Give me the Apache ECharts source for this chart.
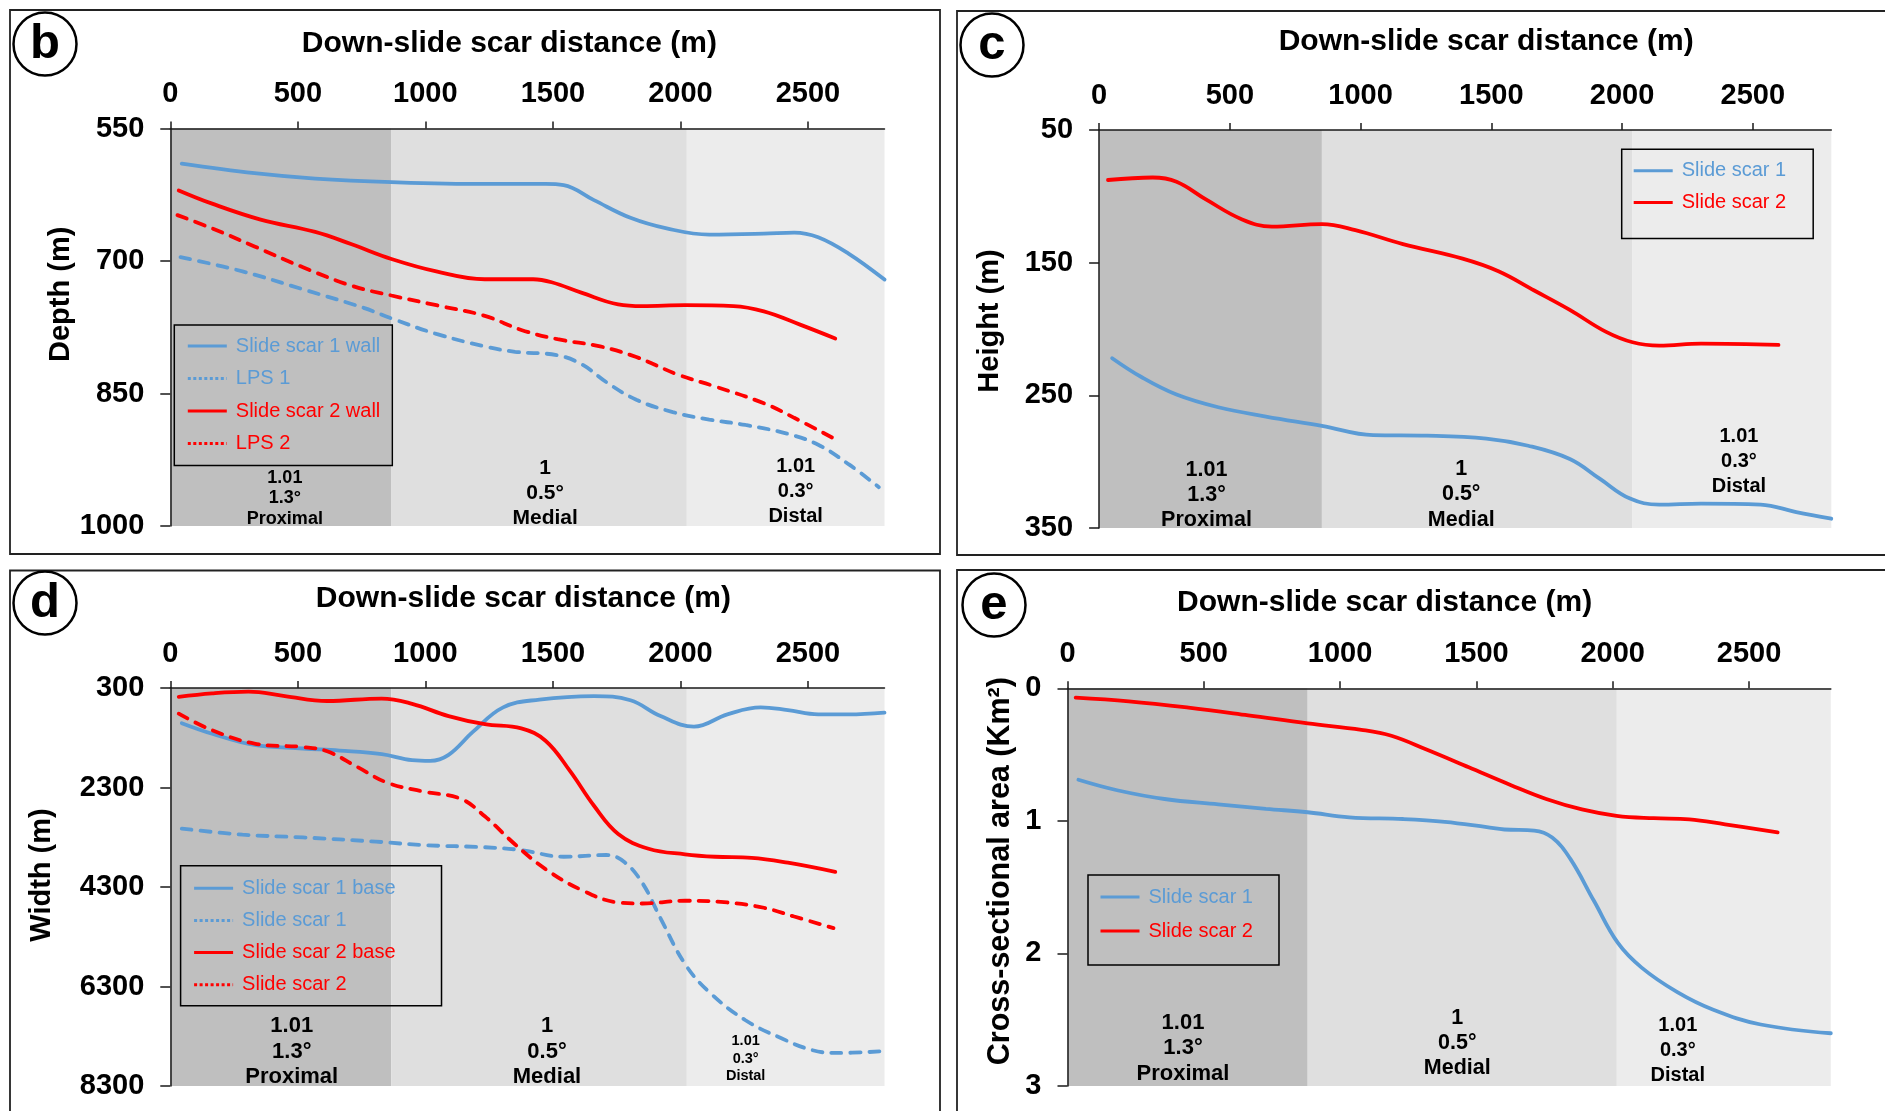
<!DOCTYPE html>
<html><head><meta charset="utf-8">
<script src="https://cdn.jsdelivr.net/npm/echarts@6/dist/echarts.min.js"></script>
<style>html,body{margin:0;padding:0;background:#fff}#c{width:1885px;height:1111px}</style>
</head><body><div id="c"></div>
<script>
const FONT = '"Liberation Sans", Arial, sans-serif';
const BLUE = '#5B9BD5', RED = '#FF0000', AX = '#1a1a1a';
const ZONE_COLORS = ['#bfbfbf', '#dfdfdf', '#ececec'];

// ---- tick labels ----
const distTicks = [0, 500, 1000, 1500, 2000, 2500];
const depthTicks = [550, 700, 850, 1000];
const heightTicks = [50, 150, 250, 350];
const widthTicks = [300, 2300, 4300, 6300, 8300];
const areaTicks = [0, 1, 2, 3];

// ---- zones (down-slide distance, m) ----
const zonesB = [0, 867, 2025, 2800];
const zonesC = [0, 852, 2040, 2800];
const zonesD = [0, 866, 2025, 2800];
const zonesE = [0, 881, 2015, 2800];
const zoneText = [['1.01', '1.3°', 'Proximal'], ['1', '0.5°', 'Medial'], ['1.01', '0.3°', 'Distal']];

// ---- panel b: depth (m) ----
const bWall1X = [45, 330, 568, 867, 1233, 1471, 1542, 1661, 1804, 1946, 2113, 2327, 2446, 2540, 2659, 2800];
const bWall1Y = [589.6, 600.5, 606.6, 610.6, 612.7, 612.7, 614, 631, 651, 663, 670, 669, 667.7, 673, 691.5, 721];
const bLps1X = [40, 283, 520, 758, 877, 1043, 1233, 1352, 1518, 1614, 1709, 1827, 1970, 2113, 2255, 2421, 2540, 2659, 2778];
const bLps1Y = [695.5, 711.7, 732, 753, 766, 782.5, 796.6, 802.7, 806.7, 817, 837, 857, 871, 879.5, 885.6, 895.7, 908, 930, 956];
const bWall2X = [33, 164, 354, 568, 711, 867, 1043, 1233, 1423, 1495, 1614, 1756, 1851, 2018, 2208, 2327, 2469, 2607];
const bWall2Y = [620, 635, 653, 667, 681, 697.6, 711.7, 720.6, 720.6, 724, 736, 749, 751, 750, 751, 757, 772, 787.7];
const bLps2X = [28, 164, 330, 520, 711, 867, 1043, 1233, 1376, 1518, 1685, 1827, 1994, 2136, 2327, 2446, 2607];
const bLps2Y = [648, 663, 683.4, 707, 728, 739, 750, 762, 778, 788.5, 796.6, 808.7, 829, 842, 861, 877.5, 901.7];

// ---- panel c: height (m) ----
const cScar1X = [50, 160, 296, 456, 638, 852, 1048, 1253, 1481, 1641, 1800, 1914, 2028, 2142, 2302, 2530, 2666, 2800];
const cScar1Y = [222, 236, 249.4, 259, 266, 273, 280, 280.4, 282.6, 288, 298, 312.8, 327.6, 332.4, 331.6, 332.4, 338, 343];
const cScar2X = [34, 205, 296, 410, 547, 661, 852, 980, 1162, 1390, 1527, 1664, 1800, 1937, 2040, 2142, 2302, 2598];
const cScar2Y = [87.7, 85.8, 89, 102.5, 117.4, 122.8, 120.9, 125.5, 136, 147, 156.5, 171, 185.6, 202, 210, 212.5, 211, 212];

// ---- panel d: width (m) ----
const dBase1X = [45, 164, 330, 520, 663, 829, 948, 1019, 1091, 1186, 1305, 1447, 1661, 1804, 1922, 2053, 2184, 2315, 2421, 2540, 2659, 2800];
const dBase1Y = [1007, 1219, 1445, 1516, 1558, 1629, 1749, 1763, 1643, 1183, 689, 533, 462, 547, 865, 1077, 830, 689, 745, 830, 830, 795];
const dScar1X = [45, 283, 520, 806, 996, 1233, 1376, 1542, 1709, 1780, 1851, 1922, 2018, 2113, 2255, 2398, 2517, 2612, 2800];
const dScar1Y = [3127, 3247, 3303, 3388, 3459, 3501, 3558, 3692, 3657, 3798, 4222, 4929, 5848, 6413, 6978, 7346, 7579, 7636, 7600];
const dBase2X = [33, 164, 307, 449, 615, 829, 948, 1091, 1233, 1376, 1471, 1566, 1661, 1756, 1875, 2018, 2136, 2279, 2421, 2607];
const dBase2Y = [477, 406, 371, 463, 561, 512, 618, 865, 1028, 1113, 1360, 1961, 2667, 3233, 3530, 3643, 3692, 3713, 3812, 3996];
const dScar2X = [33, 164, 330, 520, 615, 734, 853, 996, 1138, 1233, 1352, 1471, 1614, 1756, 1851, 2018, 2184, 2327, 2446, 2600];
const dScar2Y = [816, 1148, 1417, 1487, 1572, 1890, 2208, 2385, 2526, 2879, 3445, 3940, 4364, 4611, 4632, 4576, 4611, 4717, 4894, 5127];

// ---- panel e: cross-sectional area (km²) ----
const eScar1X = [40, 182, 356, 553, 728, 881, 1034, 1231, 1384, 1538, 1603, 1712, 1778, 1844, 1931, 2019, 2106, 2237, 2369, 2543, 2800];
const eScar1Y = [0.69, 0.769, 0.835, 0.875, 0.909, 0.935, 0.973, 0.986, 1.007, 1.047, 1.065, 1.073, 1.126, 1.285, 1.603, 1.921, 2.107, 2.292, 2.425, 2.536, 2.602];
const eScar2X = [30, 225, 444, 663, 881, 1078, 1188, 1319, 1472, 1625, 1756, 1887, 2014, 2150, 2281, 2412, 2605];
const eScar2Y = [0.07, 0.098, 0.146, 0.204, 0.265, 0.313, 0.358, 0.464, 0.596, 0.729, 0.835, 0.914, 0.962, 0.98, 0.988, 1.026, 1.087];

// ================= layout / style =================
const pairs = (xs, ys) => xs.map((x, i) => [x, ys[i]]);
const grids = [
  {left: 170.3, top: 128.6, width: 714.2, height: 397.4},
  {left: 1099.1, top: 130, width: 732.2, height: 398},
  {left: 170.3, top: 688, width: 714.2, height: 398},
  {left: 1067.5, top: 688.3, width: 763.3, height: 397.7}
];
const xNameCfg = [
  {gap: 70, pad: [0, 36, 0, 0]},
  {gap: 73.5, pad: [0, 0, 0, 42]},
  {gap: 74, pad: [0, 8, 0, 0]},
  {gap: 70.5, pad: [0, 129, 0, 0]}
];
const yCfg = [
  {min: 550, max: 1000, interval: 150, ticks: depthTicks, name: 'Depth (m)', gap: 85.5, shift: 33, fs: 29},
  {min: 50, max: 350, interval: 100, ticks: heightTicks, name: 'Height (m)', gap: 95, shift: 8, fs: 29},
  {min: 300, max: 8300, interval: 2000, ticks: widthTicks, name: 'Width (m)', gap: 114, shift: 12, fs: 29},
  {min: 0, max: 3, interval: 1, ticks: areaTicks, name: 'Cross-sectional area (Km²)', gap: 51, shift: 16, fs: 30.5}
];
const zoneLabelCfg = [
  [{dx: 4, dy: 3, fs: 18, lh: 20.5}, {dx: 6, dy: 5, fs: 21, lh: 25}, {dx: 10, dy: 3, fs: 20, lh: 25}],
  [{dx: -4, dy: 5, fs: 21.5, lh: 25}, {dx: -16, dy: 4.8, fs: 21.5, lh: 25.6}, {dx: 7, dy: -28.7, fs: 20, lh: 25.3}],
  [{dx: 11, dy: 3.7, fs: 22, lh: 25.5}, {dx: 8, dy: 3.7, fs: 22, lh: 25.5}, {dx: -40, dy: -1.2, fs: 14.5, lh: 17.5}],
  [{dx: -4.6, dy: 0.2, fs: 22, lh: 25.4}, {dx: -5, dy: -5.8, fs: 21.5, lh: 25}, {dx: -46, dy: 1.5, fs: 20, lh: 25}]
];
const allZones = [zonesB, zonesC, zonesD, zonesE];
const plain = v => String(v);

const xAxes = grids.map((g, i) => ({
  gridIndex: i, type: 'value', position: 'top', min: 0, max: 2800, interval: 500, z: 10,
  name: 'Down-slide scar distance (m)', nameLocation: 'middle', nameGap: xNameCfg[i].gap,
  nameTextStyle: {fontFamily: FONT, fontSize: 30, fontWeight: 'bold', color: '#000', padding: xNameCfg[i].pad},
  axisLine: {show: true, lineStyle: {color: AX, width: 1.5}},
  axisTick: {show: true, length: 7, lineStyle: {color: AX, width: 1.5}, customValues: distTicks},
  axisLabel: {fontFamily: FONT, fontSize: 29, fontWeight: 'bold', color: '#000', margin: 20,
    customValues: distTicks, formatter: plain},
  splitLine: {show: false}
}));
const yAxes = yCfg.map((c, i) => ({
  gridIndex: i, type: 'value', inverse: true, min: c.min, max: c.max, interval: c.interval, z: 10,
  name: c.name, nameLocation: 'middle', nameGap: c.gap, nameRotate: 90,
  nameTextStyle: {fontFamily: FONT, fontSize: c.fs, fontWeight: 'bold', color: '#000', padding: [0, 0, 0, c.shift * 2]},
  axisLine: {show: true, onZero: false, lineStyle: {color: AX, width: 1.5}},
  axisTick: {show: true, length: 10, lineStyle: {color: AX, width: 1.5}, customValues: c.ticks},
  axisLabel: {fontFamily: FONT, fontSize: 29, fontWeight: 'bold', color: '#000', margin: 26,
    customValues: c.ticks, formatter: plain},
  splitLine: {show: false}
}));

function zoneSeries(gi) {
  const z = allZones[gi];
  return {
    type: 'line', name: 'zones' + gi, xAxisIndex: gi, yAxisIndex: gi, data: [], z: 1, silent: true,
    markArea: {
      silent: true,
      data: [0, 1, 2].map(k => {
        const s = zoneLabelCfg[gi][k];
        return [{
          xAxis: z[k], itemStyle: {color: ZONE_COLORS[k]},
          label: {show: true, position: 'insideBottom', distance: 0, offset: [s.dx, s.dy],
            formatter: zoneText[k].join('\n'), fontFamily: FONT, fontSize: s.fs, lineHeight: s.lh,
            fontWeight: 'bold', color: '#000', align: 'center'}
        }, {xAxis: z[k + 1]}];
      })
    }
  };
}
function line(name, gi, xs, ys, color, dashed) {
  return {
    type: 'line', name: name, xAxisIndex: gi, yAxisIndex: gi, data: pairs(xs, ys),
    smooth: 0.4, symbol: 'none', z: 3, silent: true,
    lineStyle: {color: color, width: 3.8, type: dashed ? [10, 9] : 'solid', cap: 'round'},
    itemStyle: {color: color}
  };
}
const series = [
  zoneSeries(0), zoneSeries(1), zoneSeries(2), zoneSeries(3),
  line('b|Slide scar 1 wall', 0, bWall1X, bWall1Y, BLUE, false),
  line('b|LPS 1', 0, bLps1X, bLps1Y, BLUE, true),
  line('b|Slide scar 2 wall', 0, bWall2X, bWall2Y, RED, false),
  line('b|LPS 2', 0, bLps2X, bLps2Y, RED, true),
  line('c|Slide scar 1', 1, cScar1X, cScar1Y, BLUE, false),
  line('c|Slide scar 2', 1, cScar2X, cScar2Y, RED, false),
  line('d|Slide scar 1 base', 2, dBase1X, dBase1Y, BLUE, false),
  line('d|Slide scar 1', 2, dScar1X, dScar1Y, BLUE, true),
  line('d|Slide scar 2 base', 2, dBase2X, dBase2Y, RED, false),
  line('d|Slide scar 2', 2, dScar2X, dScar2Y, RED, true),
  line('e|Slide scar 1', 3, eScar1X, eScar1Y, BLUE, false),
  line('e|Slide scar 2', 3, eScar2X, eScar2Y, RED, false)
];

const dotted = {type: [3, 2.5], cap: 'butt', width: 3};
function legItem(name, color, dash) {
  const it = {name: name, textStyle: {color: color}};
  if (dash) it.lineStyle = dotted;
  else it.lineStyle = {width: 3, type: 'solid', cap: 'butt'};
  return it;
}
function legend(pos, pad, gap, items) {
  return {
    left: pos[0], top: pos[1], orient: 'vertical', selectedMode: false,
    itemWidth: 39, itemHeight: 14, itemGap: gap, padding: pad,
    borderColor: '#000', borderWidth: 1.5, backgroundColor: 'transparent',
    itemStyle: {opacity: 0},
    textStyle: {fontFamily: FONT, fontSize: 20, lineHeight: 20, padding: [0, 0, 0, 4]},
    formatter: n => n.split('|')[1],
    data: items
  };
}
const legends = [
  legend([174.3, 325], [11, 12, 12, 12], 12.5, [
    legItem('b|Slide scar 1 wall', BLUE, false), legItem('b|LPS 1', BLUE, true),
    legItem('b|Slide scar 2 wall', RED, false), legItem('b|LPS 2', RED, true)]),
  legend([1621.7, 149.3], [11.5, 27, 26, 10.5], 11.7, [
    legItem('c|Slide scar 1', BLUE, false), legItem('c|Slide scar 2', RED, false)]),
  legend([180.6, 865.7], [12.5, 46, 11, 12], 12.2, [
    legItem('d|Slide scar 1 base', BLUE, false), legItem('d|Slide scar 1', BLUE, true),
    legItem('d|Slide scar 2 base', RED, false), legItem('d|Slide scar 2', RED, true)]),
  legend([1088, 875], [12, 26, 24, 11], 14, [
    legItem('e|Slide scar 1', BLUE, false), legItem('e|Slide scar 2', RED, false)])
];

const panelRects = [[10, 10, 930, 544], [957, 11, 1000, 544], [10, 570.5, 930, 600], [957, 570, 1000, 600]];
const badges = [['b', 45, 44], ['c', 992, 45], ['d', 45, 603], ['e', 994, 605]];
const graphic = [];
panelRects.forEach(r => graphic.push({type: 'rect', silent: true, z: 0,
  shape: {x: r[0], y: r[1], width: r[2], height: r[3]}, style: {fill: 'none', stroke: '#222', lineWidth: 1.8}}));
badges.forEach(b => {
  graphic.push({type: 'circle', silent: true, z: 5, shape: {cx: b[1], cy: b[2], r: 31.5},
    style: {fill: '#fff', stroke: '#000', lineWidth: 2.5}});
  graphic.push({type: 'text', silent: true, z: 6, x: b[1], y: b[2],
    style: {text: b[0], fontFamily: FONT, fontSize: 49, fontWeight: 'bold', fill: '#000',
      textAlign: 'center', textVerticalAlign: 'middle'}});
});

const chart = echarts.init(document.getElementById('c'), null, {renderer: 'canvas'});
chart.setOption({
  animation: false,
  backgroundColor: '#fff',
  grid: grids,
  xAxis: xAxes,
  yAxis: yAxes,
  legend: legends,
  series: series,
  graphic: graphic
});
</script>
</body></html>
